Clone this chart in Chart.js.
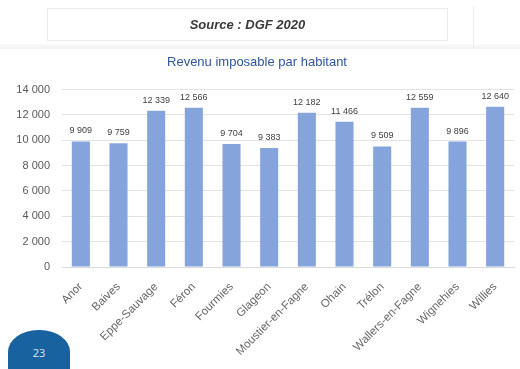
<!DOCTYPE html>
<html>
<head>
<meta charset="utf-8">
<script src="https://cdn.jsdelivr.net/npm/chart.js@4"></script>
<style>
  html, body { margin: 0; padding: 0; background: #fff; overflow: hidden; }
  #wrap { position: relative; width: 520px; height: 369px; filter: blur(0.5px); }
  #source {
    position: absolute; left: 47px; top: 8px; width: 401px; height: 33px;
    border: 1px solid #ebebeb; box-sizing: border-box;
    font: italic bold 13px "Liberation Sans", sans-serif; color: #3a3a3a;
    text-align: center; line-height: 31px;
  }
  #vline { position: absolute; left: 473px; top: 6px; width: 1px; height: 43px; background: #ebebeb; }
  #band { position: absolute; left: 0; top: 44px; width: 520px; height: 5px;
    background: linear-gradient(#fafafa, #f2f2f2); }
  #page {
    position: absolute; left: 8px; top: 330px; width: 62px; height: 50px;
    background: #17629f; border-radius: 30px 30px 0 0 / 22px 22px 0 0;
    color: #d8e6f4; font: 11px "Open Sans", sans-serif; text-align: center;
    line-height: 46px;
  }
  canvas { position: absolute; left: 0; top: 0; }
</style>
</head>
<body>
<div id="wrap">
  <div id="band"></div>
  <div id="source">Source : DGF 2020</div>
  <div id="vline"></div>
  <canvas id="revenu" width="520" height="369"></canvas>
  <div id="page">23</div>
</div>
<script>
const communes = ["Anor", "Baives", "Eppe-Sauvage", "Féron", "Fourmies", "Glageon",
    "Moustier-en-Fagne", "Ohain", "Trélon", "Wallers-en-Fagne", "Wignehies", "Willies"];
const revenus = [9909, 9759, 12339, 12566, 9704, 9383, 12182, 11466, 9509, 12559, 9896, 12640];
const yTicks = [0, 2000, 4000, 6000, 8000, 10000, 12000, 14000];

function fmt(v) {
    return String(v).replace(/\B(?=(\d{3})+(?!\d))/g, " ");
}

// etiquettes de valeur au-dessus des barres
const valueLabels = {
    id: "valueLabels",
    afterDatasetsDraw(chart) {
        const ctx = chart.ctx;
        const meta = chart.getDatasetMeta(0);
        ctx.save();
        ctx.font = "9px 'Liberation Sans', sans-serif";
        ctx.fillStyle = "#404040";
        ctx.textAlign = "center";
        ctx.textBaseline = "bottom";
        meta.data.forEach((bar, i) => {
            ctx.fillText(fmt(revenus[i]), bar.x, bar.y - 6);
        });
        ctx.restore();
    }
};

const ctx = document.getElementById("revenu").getContext("2d");

new Chart(ctx, {
  type: "bar",
  data: {
    labels: communes,
    datasets: [{
      label: "Revenu imposable par habitant",
      data: revenus,
      backgroundColor: "#86a4dc",
      borderWidth: 0,
      categoryPercentage: 1,
      barPercentage: 0.48
    }]
  },
  options: {
    responsive: false,
    animation: false,
    layout: { padding: { top: 52, right: 6, left: 0, bottom: 0 } },
    plugins: {
      legend: { display: false },
      tooltip: { enabled: false },
      title: {
        display: true,
        text: "Revenu imposable par habitant",
        color: "#2f55a0",
        font: { family: "'Liberation Sans', sans-serif", size: 13, weight: "normal" },
        padding: { top: 3, bottom: 19 }
      }
    },
    scales: {
      x: {
        grid: { display: false, drawTicks: false },
        border: { display: true, color: "#d9d9d9" },
        ticks: {
          color: "#666666",
          font: { family: "'Liberation Sans', sans-serif", size: 11.5 },
          maxRotation: 45, minRotation: 45,
          padding: 13
        },
        afterFit(scale) { scale.height = 102; }
      },
      y: {
        min: 0, max: 14000,
        afterBuildTicks(scale) { scale.ticks = yTicks.map(v => ({ value: v })); },
        grid: { color: "#e3e3e3", drawTicks: false },
        border: { display: false },
        ticks: {
          color: "#595959",
          font: { family: "'Liberation Sans', sans-serif", size: 11 },
          padding: 12,
          callback: v => fmt(v)
        },
        afterFit(scale) { scale.width = 62; }
      }
    }
  },
  plugins: [valueLabels]
});
</script>
</body>
</html>
